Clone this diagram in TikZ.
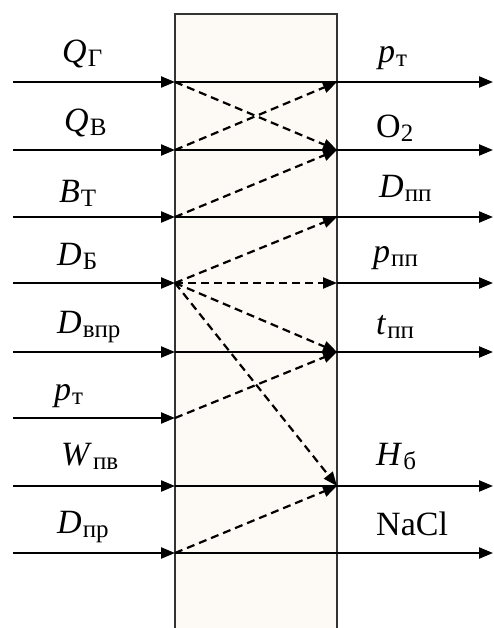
\documentclass[tikz,border=0pt]{standalone}
\usepackage{fontspec}
\setmainfont{Liberation Serif}
\usetikzlibrary{arrows.meta}
\newcommand{\sbit}[2]{\textit{#1}\kern1pt\raisebox{-4pt}{\fontsize{25}{25}\selectfont #2}}
\newcommand{\sbup}[2]{#1\raisebox{-4pt}{\fontsize{25}{25}\selectfont #2}}
\definecolor{boxfill}{HTML}{FDFAF5}
\begin{document}
\begin{tikzpicture}[x=1pt,y=-1pt,
  flow/.style={line width=2.2pt, -{Triangle[length=14pt,width=11pt]}},
  inner/.style={line width=2.2pt},
  link/.style={line width=2.2pt, dash pattern=on 8pt off 5pt, -{Triangle[length=14pt,width=11pt]}},
  lab/.style={anchor=base west, inner sep=0pt, font=\fontsize{34}{34}\selectfont},
  boxline/.style={line width=1.6pt, draw=black!80}]
\useasboundingbox (0,0) rectangle (494,628);
\fill[white] (0,0) rectangle (494,628);
\fill[boxfill] (175,14) rectangle (337,628);
\draw[boxline] (175,628) -- (175,14) -- (337,14) -- (337,628);
\foreach \i/\y in {1/82,2/150,3/217,4/283,5/352,6/418,7/486,8/553}{
  \coordinate (s\i) at (13,\y);
  \coordinate (l\i) at (175,\y);
  \coordinate (r\i) at (337,\y);
  \coordinate (e\i) at (493,\y);
}
\foreach \i in {1,...,8}{\draw[flow] (s\i) -- (l\i);}
\foreach \i in {1,2,3,5,7,8}{\draw[inner] (l\i) -- (r\i);}
\foreach \i in {1,2,3,4,5,7,8}{\draw[flow] (r\i) -- (e\i);}
\draw[link] (l1) -- (r2);
\draw[link] (l2) -- (r1);
\draw[link] (l3) -- (r2);
\draw[link] (l4) -- (r3);
\draw[link] (l4) -- (r4);
\draw[link] (l4) -- (r5);
\draw[link] (l4) -- (r7);
\draw[link] (l6) -- (r5);
\draw[link] (l8) -- (r7);
% left labels
\node[lab] (in1) at (62,63) {\sbit{Q}{Г}};
\node[lab] (in2) at (64,132) {\sbit{Q}{В}};
\node[lab] (in3) at (59,203) {\sbit{B}{Т}};
\node[lab] (in4) at (57,265) {\sbit{D}{Б}};
\node[lab] (in5) at (57,333) {\sbit{D}{впр}};
\node[lab] (in6) at (54,400) {\sbit{p}{т}};
\node[lab] (in7) at (61,465) {\sbit{W}{пв}};
\node[lab] (in8) at (57,533) {\sbit{D}{пр}};
% right labels
\node[lab] (out1) at (378,63) {\sbit{p}{т}};
\node[lab] (out2) at (376,138) {\sbup{O}{2}};
\node[lab] (out3) at (379,197) {\sbit{D}{пп}};
\node[lab] (out4) at (373,262) {\sbit{p}{пп}};
\node[lab] (out5) at (376,334) {\sbit{t}{пп}};
\node[lab] (out7) at (376,465) {\sbit{H}{б}};
\node[lab] (out8) at (376,535) {NaCl};
\end{tikzpicture}
\end{document}
